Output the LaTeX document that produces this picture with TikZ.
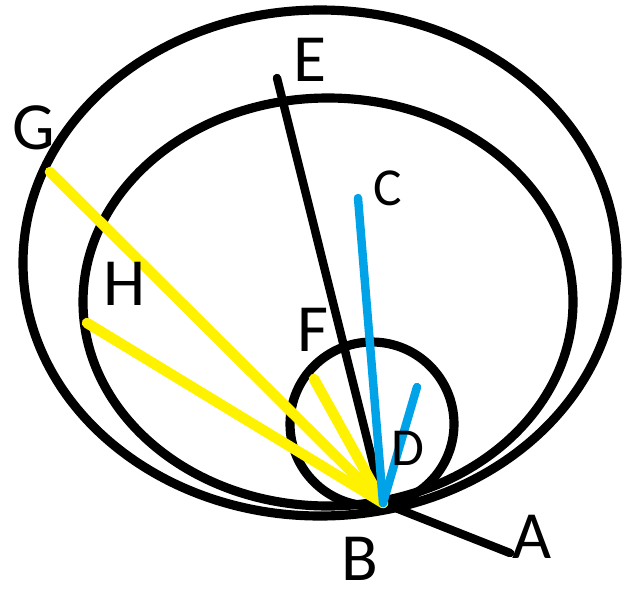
\documentclass[tikz,border=0pt]{standalone}
\usepackage{fontspec}
\setmainfont{Carlito}
\usepackage{xcolor}
\usepackage{tikz}
\definecolor{yelx}{HTML}{FFF200}
\definecolor{blux}{HTML}{00A2E8}
\tikzset{
  rim/.style={draw=black,line width=6.5pt},
  seg/.style={black,line width=6pt,line cap=round},
  yl/.style={yelx,line width=7.5pt,line cap=round},
  bl/.style={blux,line width=6pt,line cap=round},
  lb/.style={font=\fontsize{48}{50}\selectfont,inner sep=0pt},
  lbs/.style={font=\fontsize{38}{40}\selectfont,inner sep=0pt}
}
\begin{document}
\begin{tikzpicture}[x=0.025cm,y=-0.025cm]
\useasboundingbox (0,0) rectangle (632,593);
% the three curves, all touching at B
\draw[rim] (320,263) ellipse [x radius=297,y radius=253];
\draw[rim] (328,302) ellipse [x radius=245,y radius=204];
\draw[rim] (372,424) circle [radius=82];
% ends of the lines
\coordinate (B) at (383,503);
\coordinate (a) at (510,553);
\coordinate (e) at (277,78);
\coordinate (c) at (358,198);
\coordinate (d) at (417,387);
\coordinate (f) at (314,379);
\coordinate (g) at (50,172);
\coordinate (h) at (87,323);
\draw[seg] (B) -- (a);
\draw[seg] (B) -- (e);
\draw[yl] (B) -- (g);
\draw[yl] (B) -- (h);
\draw[yl] (B) -- (f);
\draw[bl] (B) -- (c);
\draw[bl] (B) -- (d);
% labels
\node[lb] (lA) at (532,537) {A};
\node[lb] (lB) at (360,559) {B};
\node[lbs] (lC) at (388,188) {C};
\node[lbs] (lD) at (408,448) {D};
\node[lb] (lE) at (310,60) {E};
\node[lb] (lF) at (313,330) {F};
\node[lb] (lG) at (34,128) {G};
\node[lb] (lH) at (125,284) {H};
\end{tikzpicture}
\end{document}
